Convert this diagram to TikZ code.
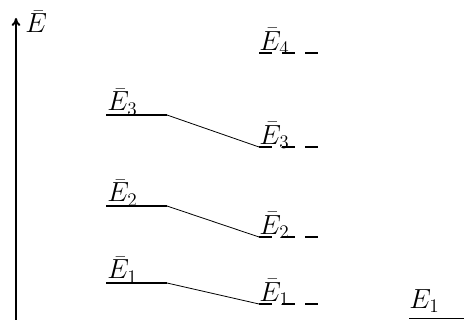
\documentclass[tikz,border=0pt]{standalone}
\usetikzlibrary{arrows.meta}
\begin{document}
\begin{tikzpicture}[x=0.75pt,y=-0.75pt,
  font=\fontsize{20.74}{25}\selectfont,
  axisline/.style={line width=1.5pt,-{To[length=6pt,width=6.5pt]}},
  levelline/.style={line width=1.5pt},
  shiftline/.style={line width=1.5pt,dash pattern=on 9.75pt off 7.5pt},
  linkline/.style={line width=0.6pt},
  freeline/.style={line width=0.6pt},
  lbl/.style={anchor=base west,inner sep=0pt}]
\useasboundingbox (0,0) rectangle (464,320);

% energy axis
\coordinate (ax0) at (16,322);
\coordinate (ax1) at (16,18);
\draw[axisline] (ax0) -- (ax1);
\node[lbl] (axlbl) at (25,33) {$\bar{E}$};

% unperturbed levels (left column)
\foreach \k/\y in {3/115,2/206,1/283}{
  \coordinate (L\k a) at (106,\y);
  \coordinate (L\k b) at (167,\y);
  \draw[levelline] (L\k a) -- (L\k b);
  \node[lbl] (Llbl\k) at (107,\y-4) {$\bar{E}_{\k}$};
}

% shifted levels (right column)
\foreach \k/\y in {4/53,3/147,2/237,1/304}{
  \coordinate (R\k a) at (259,\y);
  \coordinate (R\k b) at (318,\y);
  \draw[shiftline] (R\k a) -- (R\k b);
  \node[lbl] (Rlbl\k) at (259,\y-2.5) {$\bar{E}_{\k}$};
}

% correspondence between the two columns
\foreach \k in {1,2,3}{
  \draw[linkline] (L\k b) -- (R\k a);
}

% bare level
\node[lbl] (F1) at (409,308.5) {$E_1$};
\coordinate (F1a) at (409,318.5);
\coordinate (F1b) at (464,318.5);
\draw[freeline] (F1a) -- (F1b);
\end{tikzpicture}
\end{document}
